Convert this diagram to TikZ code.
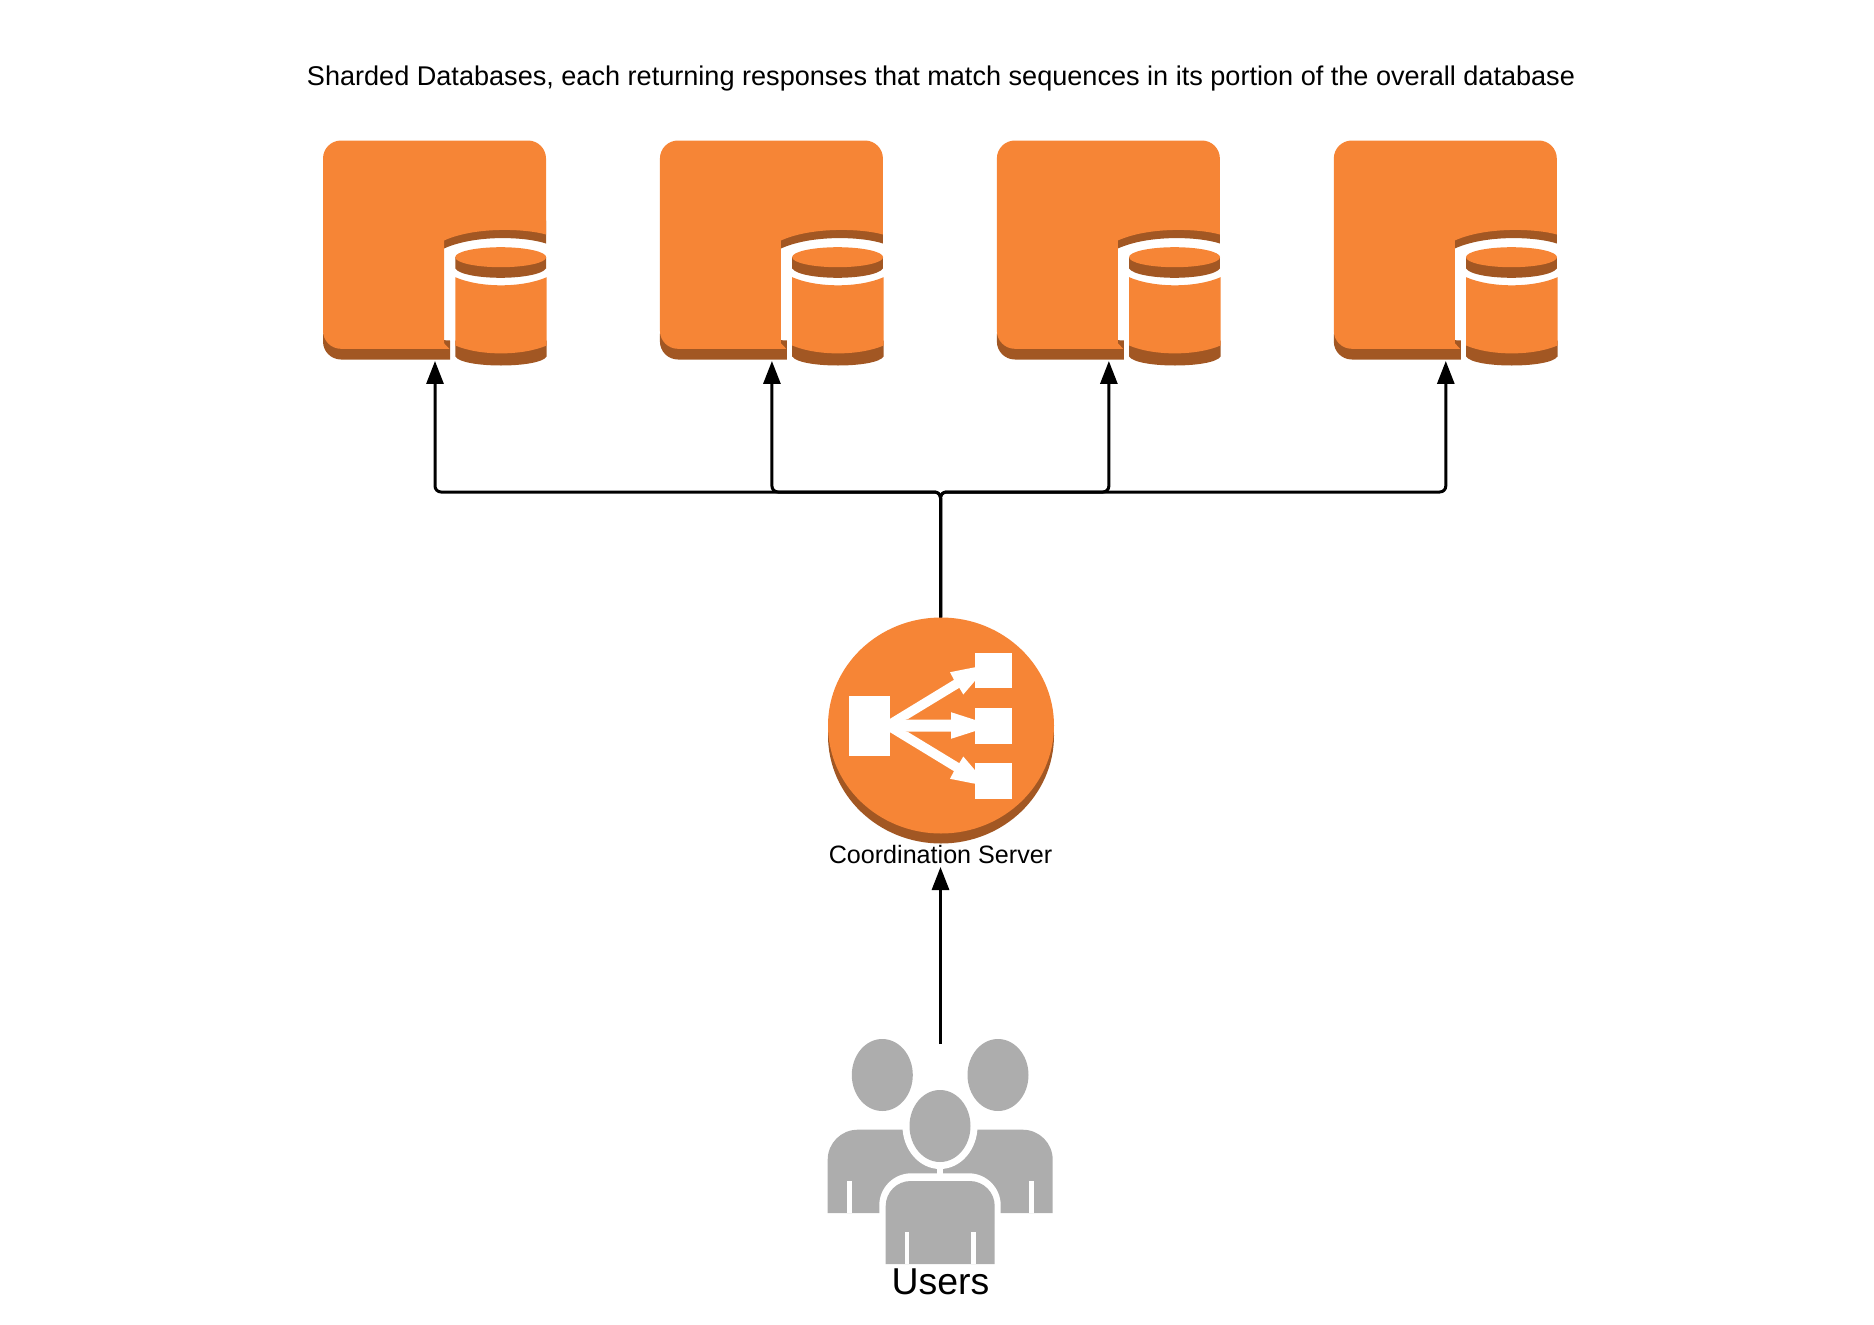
\documentclass[tikz,border=0pt]{standalone}
\usepackage{fontspec}
\setmainfont{Liberation Sans}
\usetikzlibrary{arrows.meta,positioning}
\definecolor{awsorange}{HTML}{F68536}
\definecolor{awsbrown}{HTML}{A25723}
\definecolor{usergray}{HTML}{ADADAD}
\tikzset{
    sharded/.style={x=0.02cm,y=-0.02cm,node distance=6.74cm},
    slot/.style={inner sep=0pt,outer sep=0pt,minimum width=4.48cm,minimum height=4.42cm},
    caption/.style={inner sep=0pt,outer sep=0pt,font=\fontsize{15.42}{18}\selectfont},
    link/.style={line width=0.06cm,rounded corners=0.12cm,-{Triangle[length=0.46cm,width=0.34cm]}},
    shard/.pic={
        % bottom lip and cut off ring
        \fill[awsbrown,rounded corners=0.36cm] (-112,83) -- (-112,109) [sharp corners] -- (15,109) -- (15,90) -- cycle;
        \fill[awsbrown] (111,-30) -- (111,-7) .. controls (90,-14) and (40,-16) .. (9,-2) -- (9,-30) -- cycle;
        \fill[awsorange,rounded corners=0.36cm] (-112,20) -- (-112,-110) -- (111,-110) [sharp corners] -- (111,-16)
            .. controls (90,-22) and (40,-24) .. (9,-10) -- (9,92.7) -- (14.3,98.3) [rounded corners=0.36cm] -- (-112,98.3) -- (-112,20) -- cycle;
        % inner cylinder
        \fill[awsbrown] (20.3,6.7) -- (20.3,18) .. controls (24,24) and (45,27.3) .. (65.7,27.3) .. controls (86,27.3) and (107,24) .. (111,18) -- (111,6.7) -- cycle;
        \fill[awsorange] (65.7,6.7) ellipse [x radius=45.5,y radius=10];
        \fill[awsbrown] (20.3,90) -- (20.3,106) .. controls (24,112) and (45,115) .. (66,115) .. controls (87,115) and (108,112) .. (111.7,106) -- (111.7,90) -- cycle;
        \fill[awsorange] (20.3,26.7) .. controls (45,37.5) and (87,37.5) .. (111.7,26.7) -- (111.7,95)
            .. controls (87,105.5) and (45,105.5) .. (20.3,95) -- cycle;
    },
    balancer/.pic={
        \fill[awsbrown] (0,10) ellipse [x radius=113,y radius=108];
        \fill[awsorange] (0,0) ellipse [x radius=113,y radius=108];
        \fill[white] (-92,-29.3) rectangle (-51,30);
        \fill[white] (34.3,-72.7) rectangle (71.3,-37.3);
        \fill[white] (34.3,-17.3) rectangle (71.3,18);
        \fill[white] (34.3,37.7) rectangle (71.3,73);
        \fill[white] (-51,-6) -- (10,-6) -- (10,-13.3) -- (34.3,-5.5) -- (34.3,5.5) -- (10,13.3) -- (10,6) -- (-51,6) -- cycle;
        \foreach \s in {1,-1}
            \fill[white,yscale=\s] (-51,-6.7) -- (13,-45.7) -- (9,-53.3) -- (34.3,-58.3) -- (34.3,-45) -- (22.3,-31) -- (18.3,-37.7) -- (-32.7,-6.7) -- (-51,0) -- cycle;
    },
    crowd/.pic={
        \fill[usergray] (-58.7,-79) ellipse [x radius=30.5,y radius=36];
        \fill[usergray] (57,-79) ellipse [x radius=30.5,y radius=36];
        \fill[usergray,rounded corners=0.6cm] (-113.3,59) -- (-113.3,-24.3) -- (111.7,-24.3) [sharp corners] -- (111.7,59) -- cycle;
        \fill[white] (-1,-28) ellipse [x radius=37.5,y radius=43];
        \fill[white] (-4.3,10) rectangle (2.3,25);
        \fill[white,rounded corners=0.64cm] (-61.7,70) -- (-61.7,19.3) -- (59.7,19.3) [sharp corners] -- (59.7,70) -- cycle;
        \fill[usergray] (-1,-28) ellipse [x radius=30.5,y radius=36];
        \fill[usergray,rounded corners=0.5cm] (-55.3,60) -- (-55.3,27) -- (53.7,27) [sharp corners] -- (53.7,110) -- (-55.3,110) -- cycle;
        % arm slits
        \fill[white] (-94,27) rectangle (-89,59);
        \fill[white] (88,27) rectangle (93,59);
        \fill[white] (-36.3,78) rectangle (-31.7,110);
        \fill[white] (30.3,78) rectangle (35,110);
    },
}
\begin{document}
\begin{tikzpicture}[sharded]
    \useasboundingbox (0,0) rectangle (1874,1325);

    \node[caption] (title) at (941,78.5) {Sharded Databases, each returning responses that match sequences in its portion of the overall database};

    \node[slot] (db1) at (435,250.5) {};
    \node[slot] (db2) [right of=db1] {};
    \node[slot] (db3) [right of=db2] {};
    \node[slot] (db4) [right of=db3] {};

    \node[slot,minimum width=4.52cm,minimum height=4.32cm] (server) at (940.5,725.5) {};
    \node[caption,font=\fontsize{14.3}{17}\selectfont,anchor=south,minimum height=0.5cm] (serverlabel) at (940.5,867) {Coordination Server};

    \node[slot,minimum height=4.4cm] (users) at (940.5,1154) {};
    \node[caption,font=\fontsize{21.3}{25}\selectfont] (userslabel) at (940.5,1282) {Users};

    \coordinate (hub) at (940.5,492);

    \foreach \n in {1,...,4} {
        \pic at (db\n) {shard};
        \draw[link] (server.north) -- (hub) -| (db\n.south);
    }
    \pic[xshift=0.01cm] at (server) {balancer};
    \pic[xshift=0.01cm] at (users) {crowd};
    \draw[link] (users.north) -- (serverlabel.south);
\end{tikzpicture}
\end{document}
